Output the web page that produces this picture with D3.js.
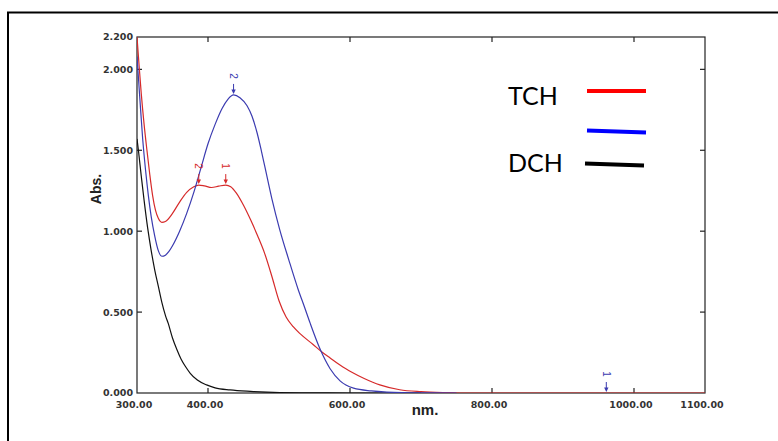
<!DOCTYPE html>
<html>
<head>
<meta charset="utf-8">
<script src="https://cdn.jsdelivr.net/npm/d3@7/dist/d3.min.js"></script>
<style>
  html, body { margin: 0; padding: 0; background: #fff; }
  svg { display: block; }
</style>
</head>
<body>
<svg id="chart" width="778" height="441"></svg>
<script>
// ---- data ----
const tchNm  = [300, 303, 306, 310, 314, 318, 322, 326, 330, 335, 340, 350, 360, 370, 380, 387, 395, 405, 415, 425, 432, 440, 450, 460, 470, 480, 490, 500, 510, 520, 530, 548, 560, 572, 590, 600, 620, 642, 670, 700, 740, 760, 900, 1100];
const tchAbs = [2.20, 2.02, 1.85, 1.66, 1.50, 1.35, 1.22, 1.13, 1.08, 1.055, 1.06, 1.11, 1.18, 1.24, 1.275, 1.285, 1.28, 1.27, 1.278, 1.285, 1.275, 1.235, 1.16, 1.07, 0.97, 0.86, 0.72, 0.57, 0.47, 0.41, 0.365, 0.30, 0.255, 0.216, 0.16, 0.135, 0.09, 0.05, 0.02, 0.008, 0.002, 0, 0, 0];

const blueNm  = [300, 304, 308, 312, 316, 320, 325, 330, 335, 340, 345, 350, 360, 370, 380, 390, 400, 410, 420, 428, 436, 445, 455, 462, 469, 475, 480, 490, 501, 514, 527, 536, 544, 558, 572, 586, 605, 630, 652, 700, 750];
const blueAbs = [2.08, 1.82, 1.57, 1.38, 1.22, 1.09, 0.97, 0.88, 0.845, 0.852, 0.875, 0.91, 1.00, 1.11, 1.24, 1.39, 1.54, 1.66, 1.76, 1.815, 1.842, 1.825, 1.775, 1.71, 1.61, 1.50, 1.40, 1.20, 1.01, 0.82, 0.64, 0.53, 0.43, 0.27, 0.15, 0.075, 0.03, 0.013, 0.006, 0.001, 0];

const dchNm  = [300, 302, 306, 310, 315, 320, 325, 330, 335, 340, 344, 350, 356, 362, 368, 375, 385, 398, 410, 431, 460, 501, 550, 600, 700];
const dchAbs = [1.57, 1.50, 1.34, 1.19, 1.02, 0.88, 0.76, 0.66, 0.56, 0.48, 0.43, 0.34, 0.27, 0.21, 0.165, 0.122, 0.08, 0.05, 0.032, 0.019, 0.010, 0.003, 0.001, 0, 0];

const xTickLabels = ["300.00", "400.00", "600.00", "800.00", "1000.00", "1100.00"];
const xTickValues = [300, 400, 600, 800, 1000, 1100];
const xInnerTicks = [400, 600, 800, 1000];
const yTickLabels = ["0.000", "0.500", "1.000", "1.500", "2.000", "2.200"];
const yTickValues = [0, 0.5, 1.0, 1.5, 2.0, 2.2];
const yInnerTicks = [0.5, 1.0, 1.5, 2.0];

// peak markers
const peakNm    = [436, 387, 425, 961];
const peakAbs   = [1.842, 1.285, 1.285, 0];
const peakLabel = ["2", "2", "1", "1"];
const peakSeries = ["blue", "red", "red", "blue"];

const legendNames = ["TCH", "", "DCH"];
const legendColors = ["#ff0000", "#0000ff", "#000000"];

// ---- drawing ----
(function () {
const svg = d3.select("#chart");
const pL = 137, pR = 705, pT = 37, pB = 393;

const x = d3.scaleLinear().domain([300, 1100]).range([pL, pR]);
const y = d3.scaleLinear().domain([0, 2.2]).range([pB, pT]);

// outer frame (extends beyond the view)
svg.append("rect").attr("x", 8).attr("y", 12.5).attr("width", 800).attr("height", 500)
  .attr("fill", "none").attr("stroke", "#000").attr("stroke-width", 2);

svg.append("defs").append("clipPath").attr("id", "clip")
  .append("rect").attr("x", pL).attr("y", pT).attr("width", pR - pL).attr("height", pB - pT);

// plot frame
svg.append("rect").attr("x", pL).attr("y", pT).attr("width", pR - pL).attr("height", pB - pT)
  .attr("fill", "none").attr("stroke", "#222").attr("stroke-width", 1.2);

// inward ticks
const tickG = svg.append("g").attr("stroke", "#222").attr("stroke-width", 1.2);
xInnerTicks.forEach(v => {
  tickG.append("line").attr("x1", x(v)).attr("x2", x(v)).attr("y1", pB).attr("y2", pB - 5);
  tickG.append("line").attr("x1", x(v)).attr("x2", x(v)).attr("y1", pT).attr("y2", pT + 5);
});
yInnerTicks.forEach(v => {
  tickG.append("line").attr("x1", pL).attr("x2", pL + 5).attr("y1", y(v)).attr("y2", y(v));
  tickG.append("line").attr("x1", pR).attr("x2", pR - 5).attr("y1", y(v)).attr("y2", y(v));
});

// tick labels
const tickFont = "'DejaVu Sans', sans-serif";
svg.append("g").selectAll("text").data(xTickValues).join("text")
  .attr("x", d => x(d) - 3).attr("y", 408)
  .attr("text-anchor", "middle")
  .attr("font-family", tickFont).attr("font-size", 9.5).attr("font-weight", "bold").attr("fill", "#333")
  .text((d, i) => xTickLabels[i]);
svg.append("g").selectAll("text").data(yTickValues).join("text")
  .attr("x", pL - 4).attr("y", d => y(d)).attr("dy", "0.36em")
  .attr("text-anchor", "end")
  .attr("font-family", tickFont).attr("font-size", 9.5).attr("font-weight", "bold").attr("fill", "#333")
  .text((d, i) => yTickLabels[i]);

// axis titles
svg.append("text").attr("transform", "translate(101,189) rotate(-90)")
  .attr("text-anchor", "middle").attr("font-family", "'Liberation Sans', Arial, sans-serif")
  .attr("font-size", 14).attr("font-weight", "bold").attr("fill", "#222").text("Abs.");
svg.append("text").attr("x", 425).attr("y", 415)
  .attr("text-anchor", "middle").attr("font-family", "'Liberation Sans', Arial, sans-serif")
  .attr("font-size", 15).attr("font-weight", "bold").attr("fill", "#222").text("nm.");

// curves
const line = d3.line().x(d => x(d[0])).y(d => y(d[1])).curve(d3.curveMonotoneX);
const curveG = svg.append("g").attr("clip-path", "url(#clip)").attr("fill", "none").attr("stroke-width", 1.2);
const seriesColors = { red: "#d62a2a", blue: "#3b3bb0", black: "#111" };
curveG.append("path").datum(d3.zip(dchNm, dchAbs)).attr("d", line).attr("stroke", seriesColors.black);
curveG.append("path").datum(d3.zip(tchNm, tchAbs)).attr("d", line).attr("stroke", seriesColors.red);
curveG.append("path").datum(d3.zip(blueNm, blueAbs)).attr("d", line).attr("stroke", seriesColors.blue);

// peak markers
const markG = svg.append("g");
peakNm.forEach((nm, i) => {
  const px = x(nm), py = y(peakAbs[i]) - 1;
  const c = seriesColors[peakSeries[i]];
  markG.append("line").attr("x1", px).attr("x2", px).attr("y1", py - 10).attr("y2", py - 3)
    .attr("stroke", c).attr("stroke-width", 1);
  markG.append("path").attr("d", `M${px - 2.2},${py - 4.5} L${px + 2.2},${py - 4.5} L${px},${py} Z`).attr("fill", c);
  markG.append("text").attr("transform", `translate(${px},${py - 18}) rotate(90)`)
    .attr("text-anchor", "middle").attr("dy", "0.35em")
    .attr("font-family", "'Liberation Sans', Arial, sans-serif").attr("font-size", 10).attr("fill", c)
    .text(peakLabel[i]);
});

// legend
const legY = [91, 131.5, 164.5];
const legG = svg.append("g");
legendNames.forEach((name, i) => {
  legG.append("line").attr("x1", i === 2 ? 585 : 587).attr("x2", i === 2 ? 644 : 646)
    .attr("y1", legY[i] - (i === 0 ? 0 : 1)).attr("y2", legY[i] + (i === 0 ? 0 : 1))
    .attr("stroke", legendColors[i]).attr("stroke-width", 4);
  if (name) {
    legG.append("text").attr("x", 508).attr("y", i === 0 ? 105 : 172)
      .attr("font-family", "Lato, 'Open Sans', sans-serif").attr("font-size", 25).attr("fill", "#000")
      .text(name);
  }
});
})();
</script>
</body>
</html>
